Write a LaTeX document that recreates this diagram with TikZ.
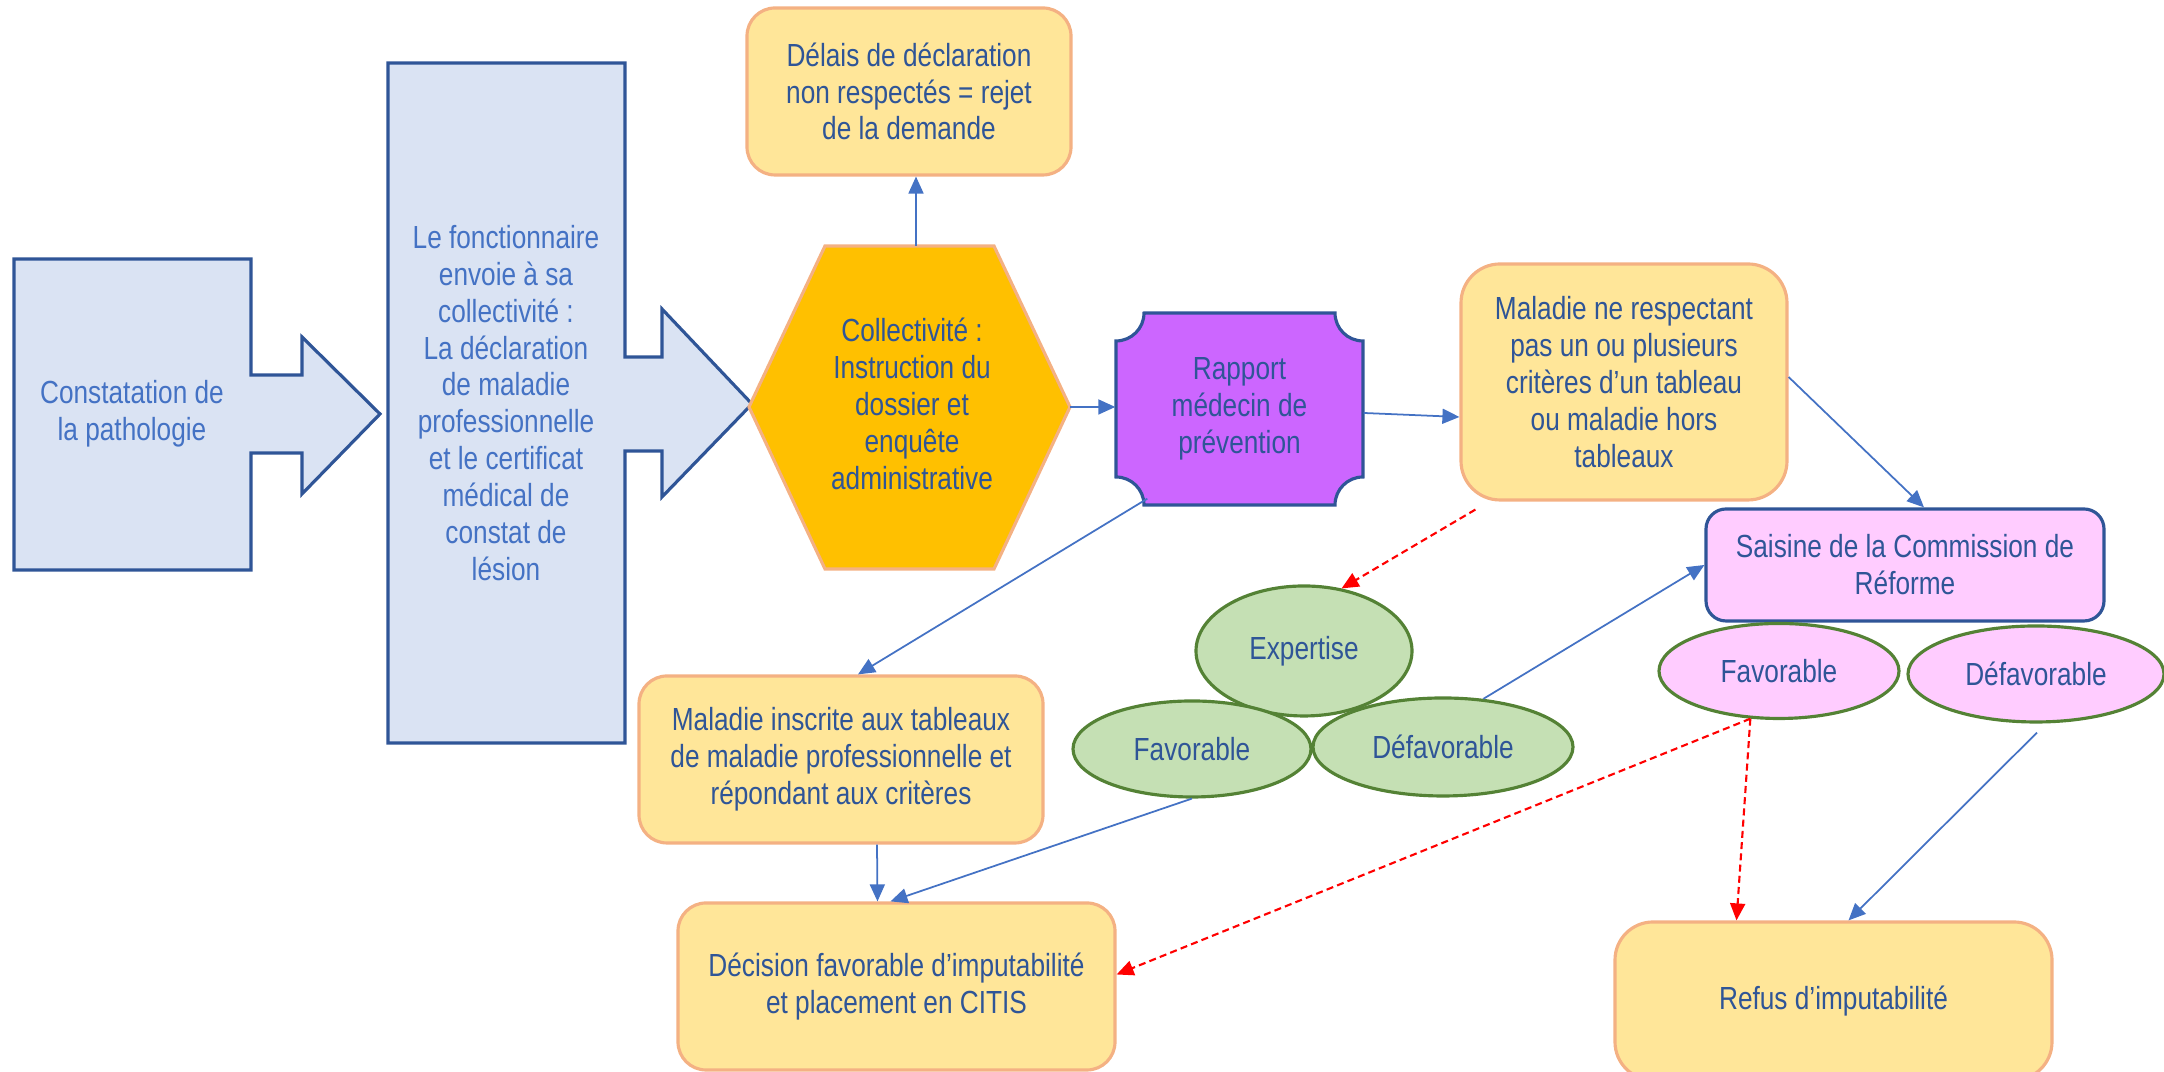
\documentclass[tikz,border=0pt]{standalone}
\usepackage{fontspec}
\setmainfont[FakeStretch=0.82]{Liberation Sans}
\usepackage{xcolor}
\usepackage{tikz}
\usetikzlibrary{arrows.meta,calc,shapes.geometric,positioning}
\definecolor{Ink}{HTML}{2F5597}
\definecolor{InkLight}{HTML}{4472C4}
\definecolor{Frame}{HTML}{2F5597}
\definecolor{PaleBlue}{HTML}{DAE3F3}
\definecolor{Sand}{HTML}{FFE699}
\definecolor{SandLine}{HTML}{F4B183}
\definecolor{Amber}{HTML}{FFC000}
\definecolor{Violet}{HTML}{CC66FF}
\definecolor{Pink}{HTML}{FFCCFF}
\definecolor{Sage}{HTML}{C5E0B4}
\definecolor{SageLine}{HTML}{548235}
\definecolor{Link}{HTML}{4472C4}
\definecolor{Alert}{HTML}{FF0000}

\begin{document}
\begin{tikzpicture}[x=1cm,y=1cm,>={Triangle[length=0.17cm,width=0.15cm]},
  txt/.style={text=Ink,align=center,font=\fontsize{9.1}{10.5}\selectfont},
  sandbox/.style={txt,draw=SandLine,fill=Sand,line width=0.9pt,rounded corners=0.28cm,inner sep=0pt},
  oval/.style={txt,ellipse,draw=SageLine,line width=0.9pt,inner sep=0pt},
  bigarrow/.style={draw=Frame,fill=PaleBlue,line width=0.9pt},
  link/.style={Link,line width=0.5pt,->},
  alert/.style={Alert,line width=0.6pt,dash pattern=on 2pt off 1.2pt,->}]
  \useasboundingbox (0,0) rectangle (21.64,10.72);

  \draw[bigarrow] (0.14,8.13) -- (2.51,8.13) -- (2.51,6.97) -- (3.02,6.97) -- (3.02,7.35)
    -- (3.80,6.58) -- (3.02,5.78) -- (3.02,6.19) -- (2.51,6.19) -- (2.51,5.02) -- (0.14,5.02) -- cycle;
  \node[txt,text=InkLight] (spot) at (1.32,6.58) {Constatation de\\la pathologie};

  \draw[bigarrow] (3.88,10.09) -- (6.25,10.09) -- (6.25,7.15) -- (6.62,7.15) -- (6.62,7.63)
    -- (7.52,6.68) -- (6.62,5.75) -- (6.62,6.21) -- (6.25,6.21) -- (6.25,3.29) -- (3.88,3.29) -- cycle;
  \node[txt,text=InkLight] (sender) at (5.06,6.69) {Le fonctionnaire\\envoie à sa\\collectivité :\\La déclaration\\de maladie\\professionnelle\\et le certificat\\médical de\\constat de\\lésion};

  \draw[draw=SandLine,fill=Amber,line width=0.9pt] (7.49,6.65) -- (8.25,8.26) -- (9.94,8.26)
    -- (10.70,6.65) -- (9.94,5.03) -- (8.25,5.03) -- cycle;
  \coordinate (hexN) at (9.16,8.26);
  \coordinate (hexE) at (10.70,6.65);
  \node[txt] (inquiry) at (9.12,6.68) {Collectivité :\\Instruction du\\dossier et\\enquête\\administrative};

  \node[sandbox,minimum width=3.24cm,minimum height=1.67cm] (delay) at (9.09,9.805) {Délais de déclaration\\non respectés = rejet\\de la demande};

  \draw[draw=Frame,fill=Violet,line width=0.9pt] (11.44,7.59) -- (13.35,7.59)
    arc[start angle=180,end angle=270,radius=0.28] -- (13.63,5.95)
    arc[start angle=90,end angle=180,radius=0.28] -- (11.44,5.67)
    arc[start angle=0,end angle=90,radius=0.28] -- (11.16,7.31)
    arc[start angle=270,end angle=360,radius=0.28] -- cycle;
  \node[txt,minimum width=2.47cm,minimum height=1.92cm,inner sep=0pt] (report) at (12.395,6.63) {Rapport\\médecin de\\prévention};

  \node[sandbox,rounded corners=0.39cm,minimum width=3.26cm,minimum height=2.36cm] (outside) at (16.24,6.90) {Maladie ne respectant\\pas un ou plusieurs\\critères d’un tableau\\ou maladie hors\\tableaux};

  \node[txt,draw=Frame,fill=Pink,line width=0.9pt,rounded corners=0.2cm,minimum width=3.98cm,minimum height=1.12cm,inner sep=0pt] (board) at (19.05,5.07) {Saisine de la Commission de\\Réforme};

  \node[oval,fill=Sage,minimum width=2.16cm,minimum height=1.30cm] (expert) at (13.04,4.21) {Expertise};
  \node[oval,fill=Sage,minimum width=2.38cm,minimum height=0.96cm] (expertYes) at (11.92,3.23) {Favorable};
  \node[oval,fill=Sage,minimum width=2.60cm,minimum height=0.98cm] (expertNo) at (14.43,3.25) {Défavorable};
  \node[oval,fill=Pink,minimum width=2.40cm,minimum height=0.95cm] (boardYes) at (17.79,4.01) {Favorable};
  \node[oval,fill=Pink,minimum width=2.56cm,minimum height=0.96cm] (boardNo) at (20.36,3.98) {Défavorable};

  \node[sandbox,minimum width=4.04cm,minimum height=1.67cm] (listed) at (8.41,3.125) {Maladie inscrite aux tableaux\\de maladie professionnelle et\\répondant aux critères};
  \node[sandbox,minimum width=4.37cm,minimum height=1.67cm] (granted) at (8.965,0.855) {Décision favorable d’imputabilité\\et placement en CITIS};
  \node[sandbox,rounded corners=0.38cm,minimum width=4.37cm,minimum height=1.58cm] (refused) at (18.335,0.71) {Refus d’imputabilité};

  \coordinate (boardYesFoot) at (boardYes.239);
  \draw[link] (hexN) -- (hexN |- delay.south);
  \draw[link] (hexE) -- (hexE -| report.west);
  \draw[link] ($(report.east)+(0,-0.04)$) -- ($(outside.west)+(0,-0.35)$);
  \draw[link] ($(outside.east)+(0,0.05)$) -- ($(board.north)+(0.19,0)$);
  \draw[link] ($(report.south west)+(0.32,0.07)$) -- ($(listed.north)+(0.17,0)$);
  \draw[link] ($(listed.south)+(0.36,0)$) -- ($(granted.north)+(-0.19,0)$);
  \draw[link] (expertYes.south) -- ($(granted.north)+(-0.06,0)$);
  \draw[link] (expertNo.50) -- (board.west);
  \draw[link] ($(boardNo.south)+(0.01,-0.09)$) -- ($(refused.north)+(0.15,0)$);
  \draw[alert] ($(outside.south west)+(0.16,-0.08)$) -- (expert.59);
  \draw[alert] (boardYesFoot) -- ($(granted.east)+(0,0.12)$);
  \draw[alert] (boardYesFoot) -- ($(refused.north)+(-0.97,0)$);
\end{tikzpicture}
\end{document}
